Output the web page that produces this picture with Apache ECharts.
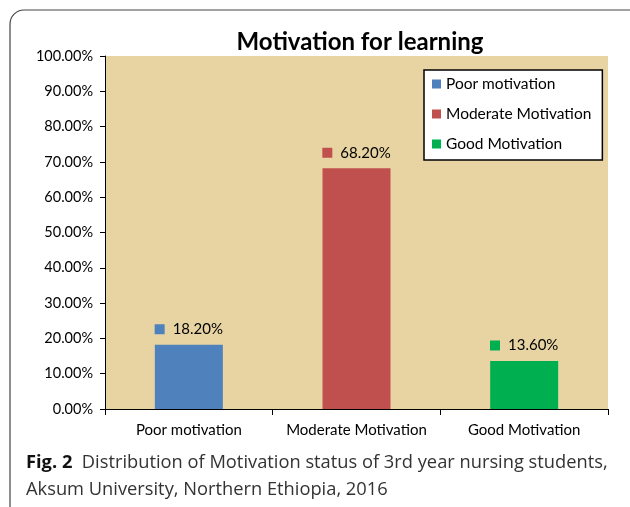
<!DOCTYPE html>
<html><head><meta charset="utf-8">
<script src="https://cdn.jsdelivr.net/npm/echarts@6/dist/echarts.min.js"></script>
<style>html,body{margin:0;padding:0;background:#fff}#c{width:630px;height:507px}</style>
</head><body><div id="c"></div>
<script>
const categories = ['Poor motivation', 'Moderate Motivation', 'Good Motivation'];
const seriesNames = ['Poor motivation', 'Moderate Motivation', 'Good Motivation'];
const values = [18.2, 68.2, 13.6];
const colors = ['#4f81bd', '#c0504d', '#00b050'];
const yTicks = [0, 10, 20, 30, 40, 50, 60, 70, 80, 90, 100];
const titleText = 'Motivation for learning';

const chart = echarts.init(document.getElementById('c'), null, {renderer: 'canvas'});
const FONT = 'Lato';
const series = seriesNames.map((name, i) => ({
  name: name,
  type: 'bar',
  stack: 'all',
  barWidth: 68,
  itemStyle: {color: colors[i]},
  data: values.map((v, j) => j === i ? v : null),
  label: {
    show: true,
    position: 'top',
    distance: 8,
    formatter: p => '{sq|}{t|' + p.value.toFixed(2) + '%}',
    rich: {
      sq: {width: 10, height: 10, backgroundColor: colors[i]},
      t: {fontFamily: FONT, fontSize: 15, color: '#000', padding: [0, 0, 0, 8]}
    }
  }
}));

chart.setOption({
  animation: false,
  title: {
    text: titleText, left: 355, top: 25, textAlign: 'center',
    textStyle: {fontFamily: FONT, fontSize: 24, fontWeight: 'bold', color: '#000'}
  },
  legend: {
    orient: 'vertical', left: 424, top: 70,
    icon: 'rect', itemWidth: 9, itemHeight: 9, itemGap: 12,
    backgroundColor: '#fff', borderColor: '#000', borderWidth: 1.5,
    padding: [5, 11, 7, 8],
    textStyle: {fontFamily: FONT, fontSize: 15.5, color: '#000', lineHeight: 18},
    data: seriesNames
  },
  grid: {
    left: 105, top: 56, right: 22, bottom: 98,
    show: true, backgroundColor: '#e8d4a3', borderWidth: 0
  },
  xAxis: {
    type: 'category', data: categories,
    axisLine: {lineStyle: {color: '#000', width: 1}},
    axisTick: {show: true, length: 6, lineStyle: {color: '#000'}},
    axisLabel: {interval: 0, fontFamily: FONT, fontSize: 15, color: '#000', margin: 14}
  },
  yAxis: {
    type: 'value', min: 0, max: 100, interval: 10,
    axisLine: {show: true, lineStyle: {color: '#000', width: 1}},
    axisTick: {show: true, length: 5, lineStyle: {color: '#000'}},
    splitLine: {show: false},
    axisLabel: {fontFamily: FONT, fontSize: 14.5, color: '#000', margin: 12,
      formatter: v => yTicks.includes(v) ? v.toFixed(2) + '%' : ''}
  },
  series: series,
  graphic: [
    {type: 'rect', shape: {x: 10, y: 10, width: 640, height: 520, r: 14},
     style: {fill: null, stroke: '#444', lineWidth: 1.2}, z: -1},
    {type: 'text', left: 26, top: 449,
     style: {
       text: '{b|Fig. 2}  Distribution of Motivation status of 3rd year nursing students,\nAksum University, Northern Ethiopia, 2016',
       fontFamily: 'Open Sans', fontSize: 18.3, fill: '#333', lineHeight: 27,
       rich: {b: {fontFamily: 'Open Sans', fontSize: 18.3, fontWeight: 'bold', fill: '#111'}}
     }}
  ]
});
</script></body></html>
